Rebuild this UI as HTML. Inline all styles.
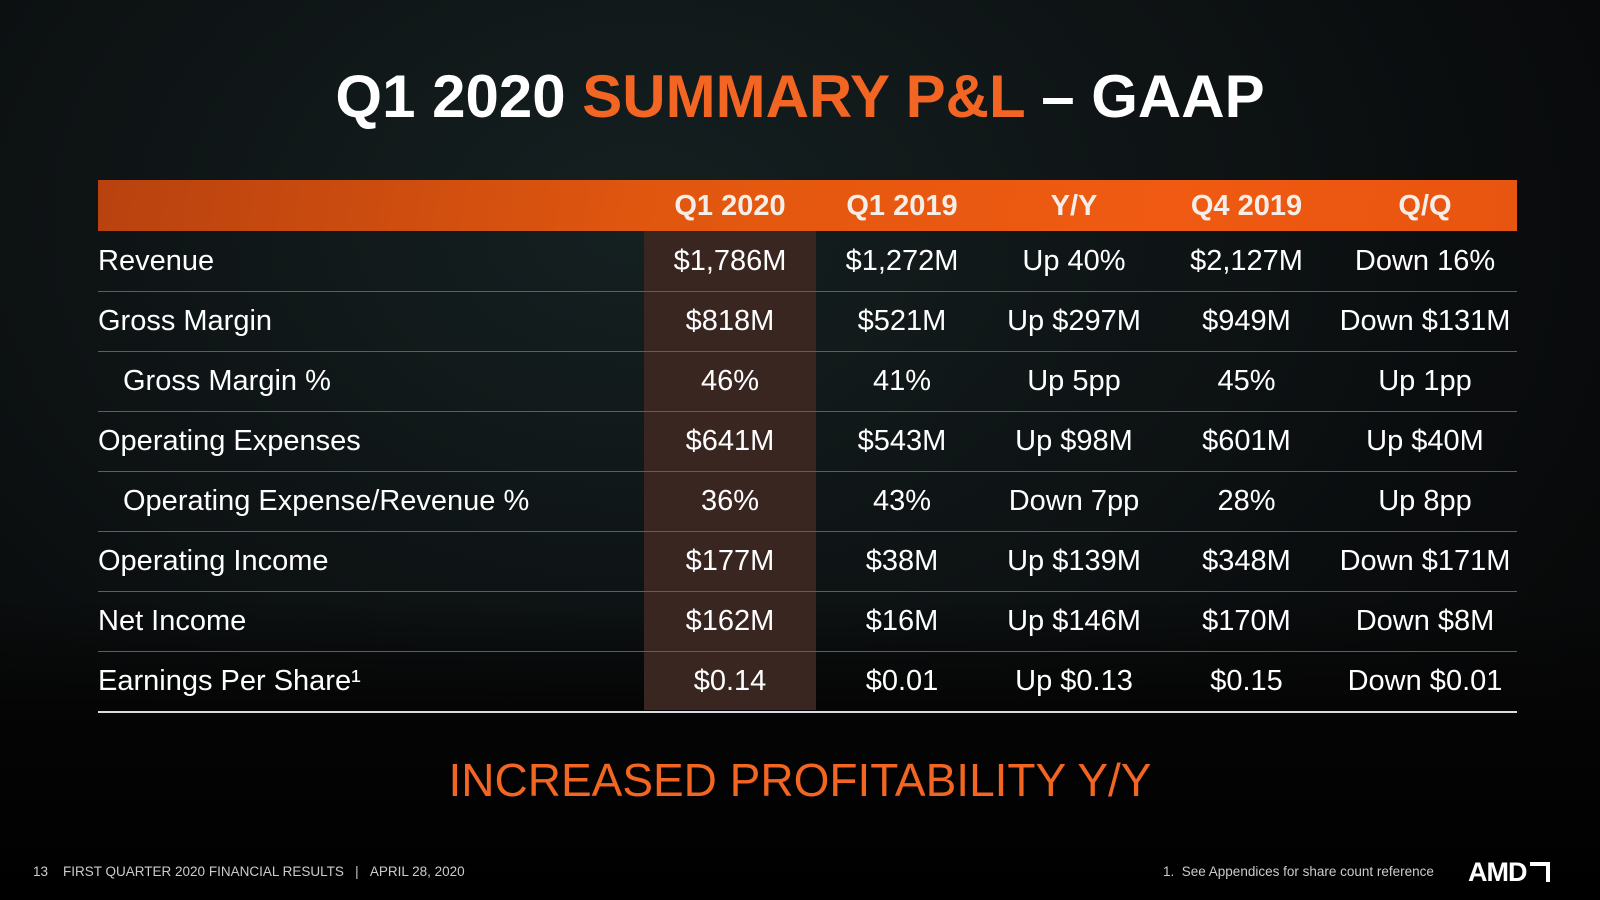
<!DOCTYPE html>
<html><head><meta charset="utf-8"><style>
html,body{margin:0;padding:0}
body{width:1600px;height:900px;overflow:hidden;position:relative;font-family:"Liberation Sans",Arial,sans-serif;color:#fff;
background:radial-gradient(ellipse at 40% 25%,#152021 0%,#0f1516 35%,#090b0c 70%,#050505 100%);}
.bottomfade{position:absolute;left:0;top:600px;width:1600px;height:300px;background:linear-gradient(rgba(5,5,5,0),#050505 35%,#000)}
#title{position:absolute;left:0;width:1600px;top:62px;text-align:center;font-weight:bold;font-size:60px}
.or{color:#f26522}
#hdr{position:absolute;left:98px;top:180px;width:1419px;height:51px;background:linear-gradient(100deg,#b8420f 0%,#e1570f 40%,#f05a12 75%,#e85510 100%)}
#hl{position:absolute;left:644px;top:231px;width:172px;height:479px;background:#3a2621}
.hcell{position:absolute;top:180px;height:51px;line-height:53px;text-align:center;font-weight:bold;font-size:29px;color:#f4eee9}
.row{position:absolute;left:98px;width:1419px;height:60px;border-bottom:1.5px solid #5e5e5e}
.row.last{border-bottom:2px solid #ddd}
.row span{position:absolute;top:0;line-height:60px;font-size:29px;white-space:nowrap}
.row .lab{left:0}
.row .lab.ind{left:25px}
.c{text-align:center}
#tag{position:absolute;left:0;width:1600px;top:753px;text-align:center;color:#f26522;font-size:46px}
.foot{position:absolute;top:864px;font-size:13.5px;color:#ccc}
#logo{position:absolute;left:1468px;top:857px;font-weight:bold;font-size:27px;letter-spacing:-1px}
</style></head><body>
<div class="bottomfade"></div>
<div id="title">Q1 2020 <span class="or">SUMMARY P&amp;L</span> – GAAP</div>
<div id="hdr"></div>
<div id="hl"></div>
<div class="hcell" style="left:644px;width:172px">Q1 2020</div>
<div class="hcell" style="left:816px;width:172px">Q1 2019</div>
<div class="hcell" style="left:988px;width:172px">Y/Y</div>
<div class="hcell" style="left:1160px;width:173px">Q4 2019</div>
<div class="hcell" style="left:1333px;width:184px">Q/Q</div>
<div id="rows"></div>
<div id="tag">INCREASED PROFITABILITY Y/Y</div>
<div class="foot" style="left:33px">13&nbsp;&nbsp;&nbsp;&nbsp;FIRST QUARTER 2020 FINANCIAL RESULTS&nbsp;&nbsp;&nbsp;|&nbsp;&nbsp;&nbsp;APRIL 28, 2020</div>
<div class="foot" style="left:1163px">1.&nbsp; See Appendices for share count reference</div>
<div id="logo">AMD<span style="display:inline-block;width:20px;height:20px;border:4px solid #fff;border-left:none;border-bottom:none;box-sizing:border-box;margin-left:3px;vertical-align:-1px"></span></div>
<script>
const labels=["Revenue","Gross Margin","Gross Margin %","Operating Expenses","Operating Expense/Revenue %","Operating Income","Net Income","Earnings Per Share¹"];
const indent=[0,0,1,0,1,0,0,0];
const q12020=["$1,786M","$818M","46%","$641M","36%","$177M","$162M","$0.14"];
const q12019=["$1,272M","$521M","41%","$543M","43%","$38M","$16M","$0.01"];
const yy=["Up 40%","Up $297M","Up 5pp","Up $98M","Down 7pp","Up $139M","Up $146M","Up $0.13"];
const q42019=["$2,127M","$949M","45%","$601M","28%","$348M","$170M","$0.15"];
const qq=["Down 16%","Down $131M","Up 1pp","Up $40M","Up 8pp","Down $171M","Down $8M","Down $0.01"];
const cols=[[q12020,546,172],[q12019,718,172],[yy,890,172],[q42019,1062,173],[qq,1235,184]];
const names=["q1-2020","q1-2019","yy","q4-2019","qq"];
const root=document.getElementById('rows');
labels.forEach((l,i)=>{
  const r=document.createElement('div');
  r.className='row'+(i===labels.length-1?' last':'');
  r.style.top=(231+i*60)+'px';
  
  
  const s=document.createElement('span');
  s.className='lab'+(indent[i]?' ind':'');
  s.textContent=l;
  
  
  r.appendChild(s);
  cols.forEach((c,j)=>{
    const v=document.createElement('span');
    v.className='c';
    v.style.left=c[1]+'px';v.style.width=c[2]+'px';
    v.textContent=c[0][i];
    
    
    r.appendChild(v);
  });
  root.appendChild(r);
});
</script>
</body></html>
